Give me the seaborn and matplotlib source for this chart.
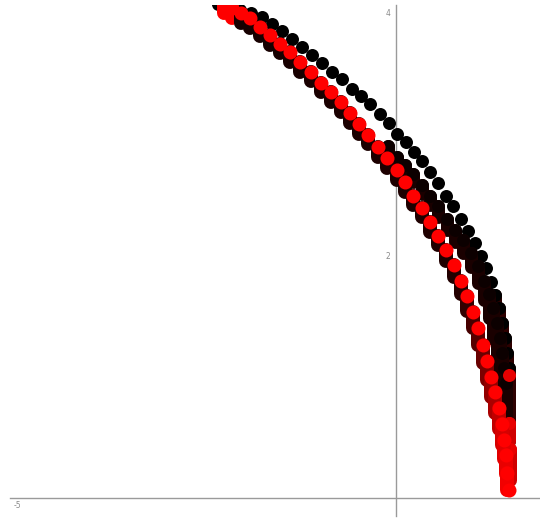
import numpy as np
import pandas as pd
import matplotlib
matplotlib.use("Agg")
import matplotlib.pyplot as plt
import seaborn as sns
from matplotlib.colors import LinearSegmentedColormap

# ---------------- data ----------------
outer_x = [-2.35, -2.20, -2.06, -1.91, -1.77, -1.64, -1.50, -1.37, -1.24, -1.11,
           -0.98, -0.84, -0.71, -0.58, -0.46, -0.34, -0.21, -0.09, 0.01, 0.13,
           0.24, 0.34, 0.45, 0.55, 0.66, 0.75, 0.86, 0.95, 1.04, 1.12,
           1.19, 1.25, 1.31, 1.36, 1.40, 1.44, 1.46, 1.49]
outer_y = [4.07, 4.05, 4.02, 3.99, 3.96, 3.90, 3.84, 3.78, 3.71, 3.65,
           3.58, 3.51, 3.45, 3.37, 3.31, 3.24, 3.16, 3.09, 3.00, 2.93,
           2.85, 2.77, 2.68, 2.59, 2.49, 2.40, 2.30, 2.20, 2.10, 1.99,
           1.89, 1.78, 1.67, 1.56, 1.44, 1.32, 1.19, 1.07]
outer_depth = [0] * 32 + [0.30, 0.55, 0.85, 0.85, 0.75, 0.60]

mid_x = [-0.11, 0.01, 0.12, 0.22, 0.34, 0.45, 0.55, 0.67, 0.78, 0.88,
         0.99, 1.08, 1.16, 1.23, 1.28, 1.33, 1.37, 1.40, 1.42, 1.45]
mid_y = [2.90, 2.81, 2.74, 2.67, 2.58, 2.49, 2.40, 2.30, 2.21, 2.12,
         2.02, 1.91, 1.79, 1.68, 1.56, 1.44, 1.32, 1.19, 1.07, 0.95]
mid_depth = [0.06, 0.06, 0.07, 0.07, 0.08, 0.08, 0.09, 0.09, 0.10, 0.10,
             0.12, 0.14, 0.16, 0.20, 0.25, 0.30, 0.35, 0.40, 0.40, 0.40]

red_x = [-2.27, -2.16, -2.04, -1.93, -1.79, -1.66, -1.53, -1.40, -1.27, -1.12,
         -0.99, -0.86, -0.73, -0.61, -0.49, -0.37, -0.24, -0.12, 0.01, 0.12,
         0.22, 0.34, 0.45, 0.55, 0.66, 0.77, 0.86, 0.94, 1.02, 1.08,
         1.15, 1.20, 1.25, 1.31, 1.36, 1.40, 1.42, 1.45, 1.46, 1.49]
red_y = [4.07, 4.03, 3.99, 3.95, 3.88, 3.81, 3.74, 3.67, 3.59, 3.51,
         3.42, 3.34, 3.26, 3.17, 3.08, 2.99, 2.89, 2.80, 2.70, 2.60,
         2.49, 2.39, 2.27, 2.16, 2.04, 1.92, 1.79, 1.66, 1.53, 1.40,
         1.26, 1.13, 1.00, 0.87, 0.74, 0.61, 0.48, 0.35, 0.21, 0.07]
red_depth = [0.08] * 24 + [0.09, 0.10, 0.11, 0.12, 0.13, 0.14,
                           0.15, 0.16, 0.17, 0.17, 0.17, 0.17, 0.16, 0.15, 0.14, 0.0]

extra_x = [1.49, 1.49, 1.50]
extra_y = [1.01, 0.62, 0.40]
extra_depth = [0.0, 0.15, 0.25]

x_ticks = [-5, -4, -3, -2, -1, 0, 1]
x_labels = ["-5", "", "", "", "", "", ""]
y_ticks = [0.5, 1.0, 1.5, 2.0, 2.5, 3.0, 3.5, 4.0]
y_labels = ["", "", "", "2", "", "", "", "4"]

# ---------------- figure ----------------
W, H, DPI = 540, 520, 100
fig = plt.figure(figsize=(W / DPI, H / DPI), dpi=DPI)
sns.set_style("white")
ax = fig.add_axes([10 / W, 4 / H, 530 / W, 511 / H])
ax.set_xlim(-5.092, 1.90)
ax.set_ylim(-0.148, 4.058)

DIAM_PX = 13
diam_pt = DIAM_PX * 72 / DPI
S = diam_pt ** 2
RED_DIAM_PT = 14 * 72 / DPI

trail_cmap = LinearSegmentedColormap.from_list(
    "trail", [(0.0, "#ff0000"), (0.15, "#d80000"), (0.30, "#700000"),
              (0.45, "#220000"), (1.0, "#160000")])


def trails(xs, ys, depths, color=None, z=1, lw=diam_pt):
    for x, y, d in zip(xs, ys, depths):
        if d <= 0:
            continue
        c = color if color is not None else trail_cmap(min(max(y / 4.0, 0), 1))
        ax.vlines(x, y - d, y, colors=[c], linewidth=lw,
                  capstyle="round", zorder=z)


trails(outer_x, outer_y, outer_depth, color="#2e0000", z=1)
df_outer = pd.DataFrame({"x": outer_x, "y": outer_y})
sns.scatterplot(data=df_outer, x="x", y="y", color="#000000", s=S,
                linewidth=0, ax=ax, zorder=2)

trails(mid_x, mid_y, mid_depth, color="#1a0000", z=3)
df_mid = pd.DataFrame({"x": mid_x, "y": mid_y})
sns.scatterplot(data=df_mid, x="x", y="y", color="#0c0000", s=S,
                linewidth=0, ax=ax, zorder=4)

trails(extra_x, extra_y, extra_depth, color="#d00000", z=5)
df_extra = pd.DataFrame({"x": extra_x, "y": extra_y})
sns.scatterplot(data=df_extra, x="x", y="y", color="#e80000", s=S,
                linewidth=0, ax=ax, zorder=6)

trails(red_x, red_y, red_depth, z=7, lw=RED_DIAM_PT)
df_red = pd.DataFrame({"x": red_x, "y": red_y})
sns.scatterplot(data=df_red, x="x", y="y", color="#ff0000", s=RED_DIAM_PT ** 2,
                linewidth=0, ax=ax, zorder=8)

# ---------------- axes styling (Mathematica-like) ----------------
for side in ["top", "right"]:
    ax.spines[side].set_visible(False)
ax.spines["left"].set_position(("data", 0))
ax.spines["bottom"].set_position(("data", 0))
for side in ["left", "bottom"]:
    ax.spines[side].set_color("#9a9a9a")
    ax.spines[side].set_linewidth(1.0)
    ax.spines[side].set_zorder(0)

ax.set_xticks(x_ticks)
ax.set_xticklabels(x_labels)
ax.set_yticks(y_ticks)
ax.set_yticklabels(y_labels)
ax.tick_params(axis="x", direction="in", length=3, width=0.6, colors="#9a9a9a",
               labelsize=5.5, labelcolor="#8a8a8a", pad=2)
ax.tick_params(axis="y", direction="out", length=3, width=0.6, colors="#9a9a9a",
               labelsize=5.5, labelcolor="#8a8a8a", pad=1)
ax.set_xlabel("")
ax.set_ylabel("")
ax.set_facecolor("white")
fig.patch.set_facecolor("white")

fig.savefig("out.png", dpi=DPI, facecolor="white")
